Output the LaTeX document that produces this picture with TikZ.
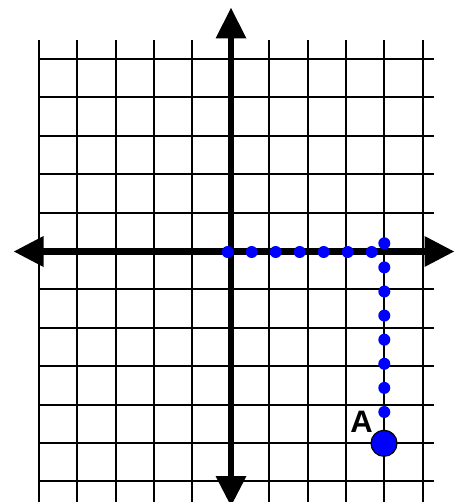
\documentclass[tikz,border=0pt]{standalone}
\usepackage{fontspec}
\setmainfont{Liberation Sans}
\begin{document}
\begin{tikzpicture}[x=1pt,y=-1pt,
  gridline/.style={black,line width=2pt},
  axisline/.style={black,line width=6.5pt},
  head/.style={fill=black,draw=none},
  smalldot/.style={fill=blue,draw=none},
  bigdot/.style={circle,fill=blue,draw=black,line width=1.2pt,minimum size=26pt,inner sep=0pt}]
\useasboundingbox (0,0) rectangle (458,502);
\clip (0,0) rectangle (458,502);
% grid
\foreach \i in {0,...,10} \draw[gridline] ({38.7+38.4*\i},40) -- ({38.7+38.4*\i},505);
\foreach \j in {0,...,11} \draw[gridline] (38,{59+38.4*\j}) -- (434,{59+38.4*\j});
% axes
\draw[axisline] (231,36) -- (231,478);
\draw[axisline] (41,251.5) -- (426,251.5);
\fill[head] (231,8) -- (246.5,38.5) -- (215.5,38.5) -- cycle;
\fill[head] (231,506) -- (246.5,476) -- (215.5,476) -- cycle;
\fill[head] (14,251.5) -- (43.5,236) -- (43.5,267) -- cycle;
\fill[head] (454,251.5) -- (424.5,236) -- (424.5,267) -- cycle;
% dotted path
\foreach \k in {0,...,6} \fill[smalldot] ({227.7+24*\k},252) circle (6);
\foreach \k in {0,...,7} \fill[smalldot] (384.3,{243.3+24.1*\k}) circle (6);
\node[bigdot] (A) at (384,443.3) {};
\node[font=\bfseries\fontsize{31}{31}\selectfont,anchor=base] at (361.5,432) {A};
\end{tikzpicture}
\end{document}
